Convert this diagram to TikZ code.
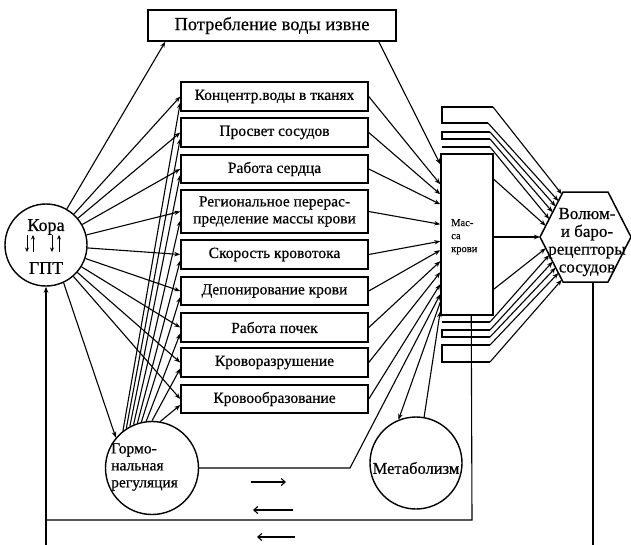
\documentclass[tikz,border=0pt]{standalone}
\usepackage{fontspec}
\setmainfont{Liberation Serif}[FakeBold=0.5]
\usetikzlibrary{arrows.meta,calc}
\begin{document}
\begin{tikzpicture}[x=1pt,y=-1pt,
  every node/.style={inner sep=0pt},
  box/.style={draw,line width=1.5pt,minimum width=187pt,minimum height=29pt,align=center,font=\fontsize{15.5}{17}\selectfont},
  ring/.style={draw,circle,line width=1.4pt},
  conn/.style={line width=1.1pt,-{Stealth[length=6pt,width=4.5pt]}},
  plain/.style={line width=1.1pt},
  free/.style={line width=1.1pt,-{Straight Barb[length=4pt,width=7pt]}},
  tiny/.style={line width=0.9pt,-{Stealth[length=4.5pt,width=4pt]}},
]
\useasboundingbox (0,0) rectangle (631,544);

% boxes
\node[box,minimum width=248pt,minimum height=31pt,font=\fontsize{18.5}{20}\selectfont] (top) at (272,25.5) {Потребление воды извне};
\node[box] (b1) at (274.5,96.5) {Концентр.воды в тканях};
\node[box] (b2) at (274.5,132.5) {Просвет сосудов};
\node[box,minimum height=28pt] (b3) at (274.5,169) {Работа сердца};
\node[box,minimum height=43pt] (b4) at (274.5,211.5) {Региональное перерас-\\пределение массы крови};
\node[box] (b5) at (274.5,254.5) {Скорость кровотока};
\node[box,minimum height=28pt] (b6) at (274.5,291) {Депонирование крови};
\node[box] (b7) at (274.5,327.5) {Работа почек};
\node[box] (b8) at (274.5,362.5) {Кроворазрушение};
\node[box,minimum height=28pt] (b9) at (274.5,399) {Кровообразование};

% Kora
\node[ring,minimum size=82pt] (kora) at (46,245) {};
\node[font=\fontsize{18}{20}\selectfont] (koraT) at (46,227) {Кора};
\node[font=\fontsize{18}{20}\selectfont] (gpt) at (46,268) {ГПТ};
\coordinate (ka1) at (27,235); \coordinate (ka2) at (27,252);
\coordinate (kb1) at (33,252); \coordinate (kb2) at (33,235);
\coordinate (kc1) at (52,235); \coordinate (kc2) at (52,252);
\coordinate (kd1) at (59,252); \coordinate (kd2) at (59,235);
\draw[tiny] (ka1) -- (ka2);
\draw[tiny] (kb1) -- (kb2);
\draw[tiny] (kc1) -- (kc2);
\draw[tiny] (kd1) -- (kd2);

% hormonal
\node[ring,minimum size=93pt] (horm) at (152,468) {};
\node[anchor=west,align=left,font=\fontsize{15.5}{17}\selectfont] (hormT) at (111,467) {Гормо-\\нальная\\регуляция};

% metabolism
\node[ring,minimum size=92pt] (metab) at (416,463) {};
\node[font=\fontsize{16.5}{18}\selectfont] (metabT) at (416,468) {Метаболизм};

% mass of blood
\node[draw,line width=1.5pt,minimum width=52pt,minimum height=161pt] (mass) at (467,234.5) {};
\node[anchor=north west,align=left,font=\fontsize{10.5}{13}\selectfont] (massT) at (451,219) {Мас-\\са\\крови};

% hexagon
\coordinate (hL) at (540,237);
\coordinate (hTL) at (563,192);
\coordinate (hTR) at (608,192);
\coordinate (hR) at (631,237);
\coordinate (hBR) at (608,282);
\coordinate (hBL) at (563,282);
\draw[line width=1.5pt] (hL) -- (hTL) -- (hTR) -- (hR) -- (hBR) -- (hBL) -- cycle;
\node[align=center,font=\fontsize{17}{17.8}\selectfont] (hexT) at (587,242) {Волюм-\\и баро-\\рецепторы\\сосудов};

% Kora connectors
\draw[conn] (kora.60) -- ($(top.south west)+(18,0)$);
\foreach \b in {b1,b2,b3,b4,b5,b6,b7,b8,b9} \draw[conn] (kora) -- (\b.west);
\draw[conn] (kora.-65) -- (horm.140);

% hormonal fan
\foreach \b/\a/\d in {b1/128/6,b2/123/6,b3/118/6,b4/113/9,b5/108/6,b6/103/6,b7/97/6,b8/90/6,b9/80/6}
  \draw[conn] (horm.\a) -- ($(\b.west)+(0,\d)$);

% into mass
\draw[conn] ($(top.south east)+(-18,0)$) -- ($(mass.north west)+(0,11)$);
\foreach \b/\d in {b1/31,b2/41,b3/51,b4/71,b5/88,b6/97,b7/108,b8/119,b9/131}
  \draw[conn] (\b.east) -- ($(mass.north west)+(0,\d)$);
\coordinate (hk) at (350,468);
\draw[conn] (horm.east) -- (hk) -- ($(mass.north west)+(0,141)$);
\draw[conn] ($(mass.north west)+(0,149)$) -- (metab.112);
\draw[conn] (metab.80) -- ($(mass.north west)+(0,158)$);

% brackets
\coordinate (ua1) at (493,107); \coordinate (ua2) at (488,123);
\coordinate (ub1) at (490,132); \coordinate (ub2) at (490,139);
\coordinate (uc) at (490,147);
\coordinate (lc) at (490,322);
\coordinate (lb1) at (490,330); \coordinate (lb2) at (490,337);
\coordinate (la1) at (490,345); \coordinate (la2) at (490,362);
\draw[plain] (ua1) -- (442,107) -- (442,123) -- (ua2);
\draw[plain] (ub1) -- (442,132) -- (442,139) -- (ub2);
\draw[plain] (442,147) -- (uc);
\draw[plain] (442,322) -- (lc);
\draw[plain] (lb1) -- (442,330) -- (442,337) -- (lb2);
\draw[plain] (la1) -- (442,345) -- (442,362) -- (la2);

% to hexagon
\coordinate (um) at ($(mass.north east)+(0,26)$);
\coordinate (lm) at ($(mass.north east)+(0,136)$);
\foreach \p/\t in {ua1/0.95,ua2/0.8,ub1/0.68,ub2/0.55,uc/0.4,um/0.25}
  \draw[conn] (\p) -- ($(hL)!\t!(hTL)$);
\foreach \p/\t in {lm/0.25,lc/0.4,lb1/0.55,lb2/0.68,la1/0.8,la2/0.95}
  \draw[conn] (\p) -- ($(hL)!\t!(hBL)$);
\draw[conn] (mass.east |- hL) -- (hL);

% feedback loops
\coordinate (lpA) at (472,520);
\coordinate (lpB) at (46,520);
\draw[plain] ($(mass.south west)+(31,0)$) -- (lpA) -- (lpB);
\coordinate (hbot) at (593,282);
\coordinate (opA) at (593,548);
\coordinate (opB) at (46,548);
\draw[conn] (hbot) -- (opA) -- (opB) -- (kora.south);

% free arrows
\coordinate (fa1) at (251,482); \coordinate (fa2) at (286,482);
\coordinate (fb1) at (293,510); \coordinate (fb2) at (253,510);
\coordinate (fc1) at (295,537); \coordinate (fc2) at (257,537);
\draw[free] (fa1) -- (fa2);
\draw[free] (fb1) -- (fb2);
\draw[free] (fc1) -- (fc2);
\end{tikzpicture}
\end{document}
